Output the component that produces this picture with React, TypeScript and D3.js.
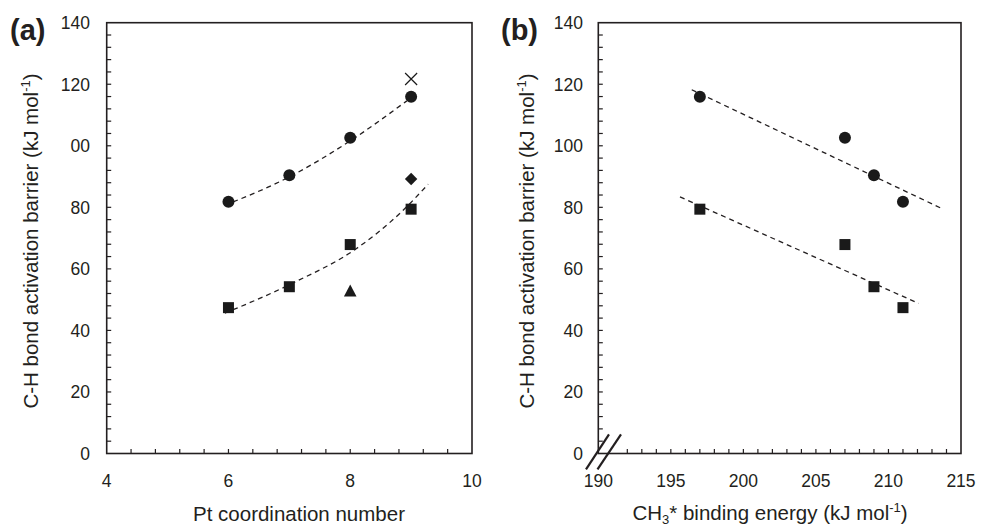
import * as d3 from "d3";

// Pt coordination number and matching CH3* binding energy
const coordNumbers = [6, 7, 8, 9];
const bindingEnergies = [211, 209, 207, 197];

// C-H activation barriers (kJ/mol)
const barrierCircles = [81.8, 90.4, 102.6, 115.9];
const barrierSquares = [47.4, 54.2, 67.9, 79.4];

// extra single points in panel (a)
const crossPoint = { x: 9, y: 121.7 };
const diamondPoint = { x: 9, y: 89.2 };
const trianglePoint = { x: 8, y: 52.4 };

// dashed trend lines
const trendTopAX = [5.94, 7.0, 8.0, 8.93];
const trendTopAY = [80.7, 89.9, 101.6, 114.6];
const trendBotAX = [5.94, 7.09, 8.08, 8.84, 9.28];
const trendBotAY = [45.6, 55.7, 66.3, 78.5, 87.5];
const trendTopBX = [196.44, 213.68];
const trendTopBY = [118.2, 79.6];
const trendBotBX = [195.63, 212.07];
const trendBotBY = [83.4, 48.8];

// tick labels
const yTicks = [0, 20, 40, 60, 80, 100, 120, 140];
const yLabelsA = ["0", "20", "40", "60", "80", "00", "120", "140"];
const yLabelsB = ["0", "20", "40", "60", "80", "100", "120", "140"];
const xTicksA = [4, 6, 8, 10];
const xTicksB = [190, 195, 200, 205, 210, 215];

const INK = "#231f20";
const FONT = "'Liberation Sans', Arial, sans-serif";

const top = 22.7;
const bottom = 453.5;

const y = d3.scaleLinear().domain([0, 140]).range([bottom, top]);
const xA = d3.scaleLinear().domain([4, 10]).range([106.7, 472]);
const xB = d3.scaleLinear().domain([190, 215]).range([598.3, 961]);

const zip = (xs: number[], ys: number[]) => xs.map((v, i) => [v, ys[i]] as [number, number]);

function square(cx: number, cy: number, s = 11) {
  return <rect x={cx - s / 2} y={cy - s / 2} width={s} height={s} fill="#1a1a1a" />;
}
function circle(cx: number, cy: number) {
  return <circle cx={cx} cy={cy} r={6} fill="#1a1a1a" />;
}
function diamond(cx: number, cy: number) {
  const h = 6.2;
  return <path d={`M${cx},${cy - h}L${cx + h},${cy}L${cx},${cy + h}L${cx - h},${cy}Z`} fill="#1a1a1a" />;
}
function triangle(cx: number, cy: number) {
  return (
    <path d={`M${cx},${cy - 7.8}L${cx + 6.3},${cy + 4.2}L${cx - 6.3},${cy + 4.2}Z`} fill="#1a1a1a" />
  );
}
function cross(cx: number, cy: number) {
  const h = 6;
  return (
    <path
      d={`M${cx - h},${cy - h}L${cx + h},${cy + h}M${cx + h},${cy - h}L${cx - h},${cy + h}`}
      stroke="#1a1a1a"
      strokeWidth={1.2}
      fill="none"
    />
  );
}

function Frame({ x, xTicks, xMinor, yLabels, labelRight }: any) {
  const [x0, x1] = x.range();
  return (
    <g>
      <rect x={x0} y={top} width={x1 - x0} height={bottom - top} fill="none" stroke={INK} strokeWidth={1.6} />
      {d3.range(4, 140, 4).map((v) => (
        <line key={"ym" + v} x1={x0} x2={x0 + 4.5} y1={y(v)} y2={y(v)} stroke={INK} strokeWidth={1.2} />
      ))}
      {xMinor.map((v: number) => (
        <line key={"xm" + v} x1={x(v)} x2={x(v)} y1={bottom} y2={bottom - 4.5} stroke={INK} strokeWidth={1.2} />
      ))}
      {yTicks.map((v, i) => (
        <text
          key={"yl" + v}
          x={labelRight}
          y={y(v)}
          dy="0.36em"
          textAnchor="end"
          fontSize={17.5}
          fontFamily={FONT}
          fill={INK}
        >
          {yLabels[i]}
        </text>
      ))}
      {xTicks.map((v: number) => (
        <text key={"xl" + v} x={x(v)} y={487} textAnchor="middle" fontSize={17.5} fontFamily={FONT} fill={INK}>
          {v}
        </text>
      ))}
    </g>
  );
}

export default function App() {
  const lineA = d3
    .line<[number, number]>()
    .x((d) => xA(d[0]))
    .y((d) => y(d[1]))
    .curve(d3.curveMonotoneX);
  const lineB = d3
    .line<[number, number]>()
    .x((d) => xB(d[0]))
    .y((d) => y(d[1]));

  const minorA = d3.range(4.4, 9.99, 0.4).map((v) => +v.toFixed(1));
  const minorB = d3.range(192, 215, 1);

  const dash = { fill: "none", stroke: INK, strokeWidth: 1.3, strokeDasharray: "5,4" };

  return (
    <svg width={981} height={529} style={{ position: "absolute", left: 0, top: 0, background: "#fff" }}>
      {/* panel (a) */}
      <text x={10} y={40} fontSize={29} fontWeight="bold" fontFamily={FONT} fill={INK}>
        (a)
      </text>
      <Frame x={xA} xTicks={xTicksA} xMinor={minorA} yLabels={yLabelsA} labelRight={90} />
      <path d={lineA(zip(trendTopAX, trendTopAY)) || ""} {...dash} />
      <path d={lineA(zip(trendBotAX, trendBotAY)) || ""} {...dash} />
      {coordNumbers.map((c, i) => (
        <g key={"ac" + c}>
          {circle(xA(c), y(barrierCircles[i]))}
          {square(xA(c), y(barrierSquares[i]))}
        </g>
      ))}
      {cross(xA(crossPoint.x), y(crossPoint.y))}
      {diamond(xA(diamondPoint.x), y(diamondPoint.y))}
      {triangle(xA(trianglePoint.x), y(trianglePoint.y))}
      <text x={299} y={521} textAnchor="middle" fontSize={20.5} fontFamily={FONT} fill={INK}>
        Pt coordination number
      </text>
      <text
        transform="translate(38,241) rotate(-90)"
        textAnchor="middle"
        fontSize={20.5}
        fontFamily={FONT}
        fill={INK}
      >
        C-H bond activation barrier (kJ mol
        <tspan fontSize={13} dy={-8}>
          -1
        </tspan>
        <tspan dy={8}>)</tspan>
      </text>

      {/* panel (b) */}
      <text x={501} y={40} fontSize={29} fontWeight="bold" fontFamily={FONT} fill={INK}>
        (b)
      </text>
      <Frame x={xB} xTicks={xTicksB} xMinor={minorB} yLabels={yLabelsB} labelRight={583} />
      {/* axis break */}
      <g stroke={INK} strokeWidth={2.2}>
        <line x1={586} y1={469.3} x2={609} y2={434.3} />
        <line x1={597.5} y1={469.3} x2={621} y2={434.3} />
      </g>
      <path d={lineB(zip(trendTopBX, trendTopBY)) || ""} {...dash} />
      <path d={lineB(zip(trendBotBX, trendBotBY)) || ""} {...dash} />
      {bindingEnergies.map((e, i) => (
        <g key={"be" + e}>
          {circle(xB(e), y(barrierCircles[i]))}
          {square(xB(e), y(barrierSquares[i]))}
        </g>
      ))}
      <text x={770} y={520} textAnchor="middle" fontSize={20.5} fontFamily={FONT} fill={INK}>
        CH
        <tspan fontSize={13} dy={4}>
          3
        </tspan>
        <tspan dy={-4}>* binding energy (kJ mol</tspan>
        <tspan fontSize={13} dy={-8}>
          -1
        </tspan>
        <tspan dy={8}>)</tspan>
      </text>
      <text
        transform="translate(534,241) rotate(-90)"
        textAnchor="middle"
        fontSize={20.5}
        fontFamily={FONT}
        fill={INK}
      >
        C-H bond activation barrier (kJ mol
        <tspan fontSize={13} dy={-8}>
          -1
        </tspan>
        <tspan dy={8}>)</tspan>
      </text>
    </svg>
  );
}
